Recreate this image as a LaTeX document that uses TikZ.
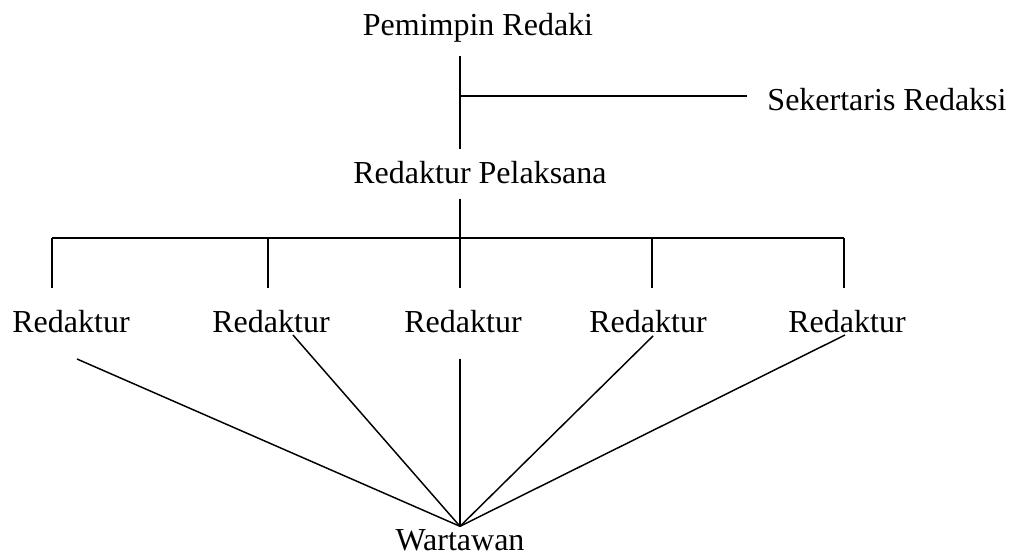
\documentclass[tikz,border=0pt]{standalone}
\usepackage{fontspec}
\setmainfont{Liberation Serif}
\usetikzlibrary{calc}
\begin{document}
\begin{tikzpicture}[x=0.75pt,y=-0.75pt,line width=1.1pt]
\tikzset{jabatan/.style={inner sep=0pt,anchor=base,font=\fontsize{24}{28}\selectfont}}
\useasboundingbox (0,0) rectangle (1014,556);

\node[jabatan] (pemimpin) at (478,36) {Pemimpin Redaki};
\node[jabatan] (sekretaris) at (887,111) {Sekertaris Redaksi};
\node[jabatan] (pelaksana) at (480,184) {Redaktur Pelaksana};
\foreach \i/\x in {1/71,2/271,3/463,4/648,5/847}
  \node[jabatan] (red\i) at (\x,332) {Redaktur};
\node[jabatan] (wartawan) at (460,550) {Wartawan};

\coordinate (cabang) at (460,96);
\coordinate (bar) at (460,238);
\coordinate (puncak) at ($(wartawan.north)+(0,-2)$);
\foreach \i/\x in {1/52,2/268,3/460,4/652,5/844}
  \coordinate (turun\i) at (\x,288);

\draw ($(pemimpin.south)+(-18,12)$) -- ($(pelaksana.north)+(-20,-12)$);
\draw (cabang) -- ($(sekretaris.west |- cabang)+(-20,0)$);
\draw ($(pelaksana.south)+(-20,14)$) -- (bar);
\draw (turun1 |- bar) -- (turun5 |- bar);
\foreach \i in {1,...,5}
  \draw (turun\i |- bar) -- (turun\i);
\foreach \i/\dx/\dy in {1/6/27,2/22/3,3/-3/27,4/5/4,5/-2/3}
  \draw ($(red\i.base)+(\dx,\dy)$) -- (puncak);
\end{tikzpicture}
\end{document}
